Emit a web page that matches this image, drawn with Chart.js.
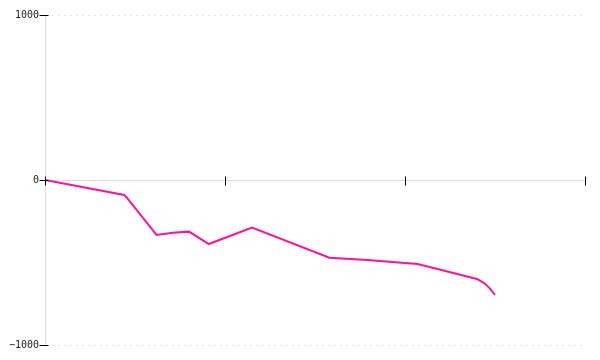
<!DOCTYPE html>
<html>
<head>
<meta charset="utf-8">
<script src="https://cdn.jsdelivr.net/npm/chart.js@4/dist/chart.umd.min.js"></script>
<style>
  html, body { margin: 0; padding: 0; background: #fff; }
</style>
</head>
<body>
<canvas id="lineChart" width="600" height="360"></canvas>
<script>
const xValues = [0, 4.4, 4.5, 6.2, 7.1, 8.0, 9.1, 11.5, 15.8, 17.9, 20.7, 24.0, 24.4, 24.7, 25.0];
const yValues = [0, -91, -101, -333, -320, -313, -388, -289, -471, -485, -509, -600, -625, -655, -697];
const yTicks = [-1000, 0, 1000];
const xTicks = [0, 10, 20, 30];

// small black marks crossing each axis at every tick
const crossTicks = {
  id: "crossTicks",
  afterDatasetsDraw(chart) {
    const { ctx, scales } = chart;
    const x = scales.x;
    const y = scales.y;
    const y0 = Math.round(y.getPixelForValue(0)) + 0.5;
    const x0 = Math.round(x.left) + 0.5;
    ctx.save();
    ctx.strokeStyle = "#000";
    ctx.lineWidth = 1;
    ctx.beginPath();
    x.ticks.forEach((t, i) => {
      const px = Math.round(x.getPixelForTick(i)) + 0.5;
      ctx.moveTo(px, y0 - 4);
      ctx.lineTo(px, y0 + 5);
    });
    y.ticks.forEach((t, i) => {
      const py = Math.round(y.getPixelForTick(i)) + 0.5;
      ctx.moveTo(x0 - 6, py);
      ctx.lineTo(x0 + 3, py);
    });
    ctx.stroke();
    ctx.restore();
  },
};

const ctx = document.getElementById("lineChart");

new Chart(ctx, {
  type: "line",
  data: {
    datasets: [
      {
        data: xValues.map((x, i) => ({ x: x, y: yValues[i] })),
        borderColor: "#ff1493",
        borderWidth: 2,
        pointRadius: 0,
        tension: 0,
        fill: false,
      },
    ],
  },
  options: {
    responsive: false,
    animation: false,
    layout: {
      padding: { top: 15, right: 15, bottom: 15, left: 0 },
    },
    plugins: {
      legend: { display: false },
      tooltip: { enabled: false },
    },
    scales: {
      x: {
        type: "linear",
        position: { y: 0 },
        min: xTicks[0],
        max: xTicks[xTicks.length - 1],
        afterBuildTicks: (scale) => {
          scale.ticks = xTicks.map((v) => ({ value: v }));
        },
        ticks: { display: false },
        grid: { drawOnChartArea: false, drawTicks: false },
        border: { color: "#dddddd" },
      },
      y: {
        min: yTicks[0],
        max: yTicks[yTicks.length - 1],
        afterBuildTicks: (scale) => {
          scale.ticks = yTicks.map((v) => ({ value: v }));
        },
        afterFit: (scale) => {
          scale.width = 45;
        },
        ticks: {
          padding: 6,
          color: "#222",
          font: { family: "DejaVu Sans Mono", size: 10 },
          callback: (v) => (v < 0 ? "\u2212" + Math.abs(v) : String(v)),
        },
        grid: {
          drawTicks: false,
          color: (c) => (c.tick && c.tick.value === 0 ? "rgba(0,0,0,0)" : "#e6e6e6"),
          lineWidth: 1,
        },
        border: { color: "#dddddd", dash: [2, 4] },
      },
    },
  },
  plugins: [crossTicks],
});
</script>
</body>
</html>
